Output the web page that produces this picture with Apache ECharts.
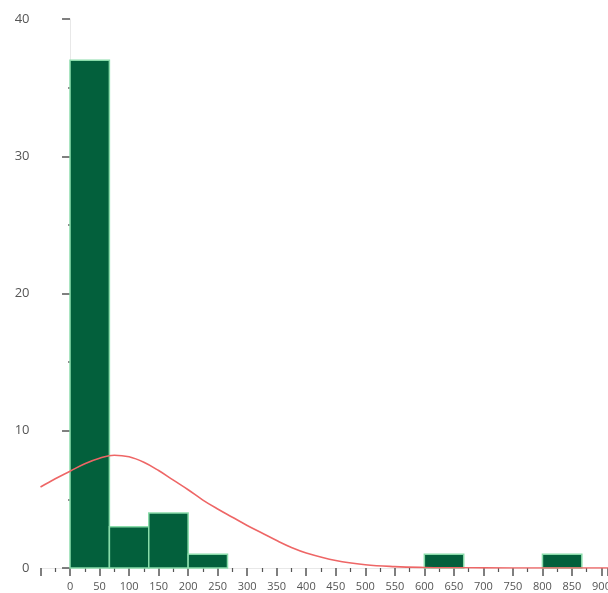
<!DOCTYPE html>
<html>
<head>
<meta charset="utf-8">
<script src="https://cdn.jsdelivr.net/npm/echarts@6/dist/echarts.min.js"></script>
<style>
  html, body { margin: 0; padding: 0; background: #ffffff; overflow: hidden; }
  #chart { width: 608px; height: 593px; }
</style>
</head>
<body>
<div id="chart"></div>
<script>
// Histogram bins: left edge, right edge, count
const binStarts = [0, 66.67, 133.33, 200, 600, 800];
const binEnds   = [66.67, 133.33, 200, 266.67, 666.67, 866.67];
const binCounts = [37, 3, 4, 1, 1, 1];

// Fitted density curve, sampled points (x, frequency)
const curveX = [-50, -25, 0, 25, 50, 75, 100, 125, 150, 175, 200, 225, 250, 275, 300, 325, 350, 375, 400, 450, 500, 550, 600, 650, 700, 800, 911];
const curveY = [5.9, 6.5, 7.05, 7.6, 8.0, 8.22, 8.1, 7.7, 7.1, 6.4, 5.7, 4.95, 4.3, 3.7, 3.1, 2.55, 2.0, 1.5, 1.1, 0.55, 0.24, 0.1, 0.04, 0.02, 0.01, 0, 0];

// Axis ranges
const xMin = -50, xMax = 911, xStep = 50;
const yMin = 0, yMax = 40, yStep = 10;

const binData = binStarts.map((s, i) => [s, binEnds[i], binCounts[i]]);
const curveData = curveX.map((x, i) => [x, curveY[i]]);

const chart = echarts.init(document.getElementById('chart'), null, { renderer: 'canvas', width: 608, height: 593 });

chart.setOption({
  animation: false,
  backgroundColor: '#ffffff',
  grid: {
    left: 40.5, right: 0, top: 19, bottom: 25,
    containLabel: false,
    outerBoundsMode: 'none'
  },
  xAxis: {
    type: 'value',
    min: xMin,
    max: xMax,
    interval: xStep,
    axisLine: { show: true, lineStyle: { color: '#e8e8e8', width: 1 } },
    axisTick: { show: true, length: 8, lineStyle: { color: '#555', width: 1.5 } },
    minorTick: { show: true, splitNumber: 2, length: 4, lineStyle: { color: '#555', width: 1.2 } },
    splitLine: { show: false },
    axisLabel: {
      margin: 13,
      color: '#555',
      fontFamily: 'Open Sans',
      fontSize: 11,
      showMaxLabel: false,
      formatter: v => (v < 0 || v % xStep !== 0 ? '' : String(v))
    }
  },
  yAxis: {
    type: 'value',
    min: yMin,
    max: yMax,
    interval: yStep,
    axisLine: { show: true, lineStyle: { color: '#e8e8e8', width: 1 } },
    axisTick: { show: true, length: 8, lineStyle: { color: '#555', width: 1.5 } },
    minorTick: { show: true, splitNumber: 2, length: 2, lineStyle: { color: '#666', width: 1.5 } },
    splitLine: { show: false },
    axisLabel: { margin: 11, color: '#555', fontFamily: 'Open Sans', fontSize: 13 }
  },
  series: [
    {
      type: 'custom',
      data: binData,
      encode: { x: [0, 1], y: 2 },
      z: 2,
      renderItem: (params, api) => {
        const topLeft = api.coord([api.value(0), api.value(2)]);
        const bottomRight = api.coord([api.value(1), 0]);
        return {
          type: 'rect',
          shape: {
            x: topLeft[0],
            y: topLeft[1],
            width: bottomRight[0] - topLeft[0],
            height: bottomRight[1] - topLeft[1]
          },
          style: { fill: '#03603c', stroke: '#8adcaa', lineWidth: 1.5 }
        };
      }
    },
    {
      type: 'line',
      data: curveData,
      smooth: 0.4,
      showSymbol: false,
      symbol: 'none',
      z: 3,
      lineStyle: { color: '#ee6666', width: 1.6 }
    }
  ]
});
</script>
</body>
</html>
